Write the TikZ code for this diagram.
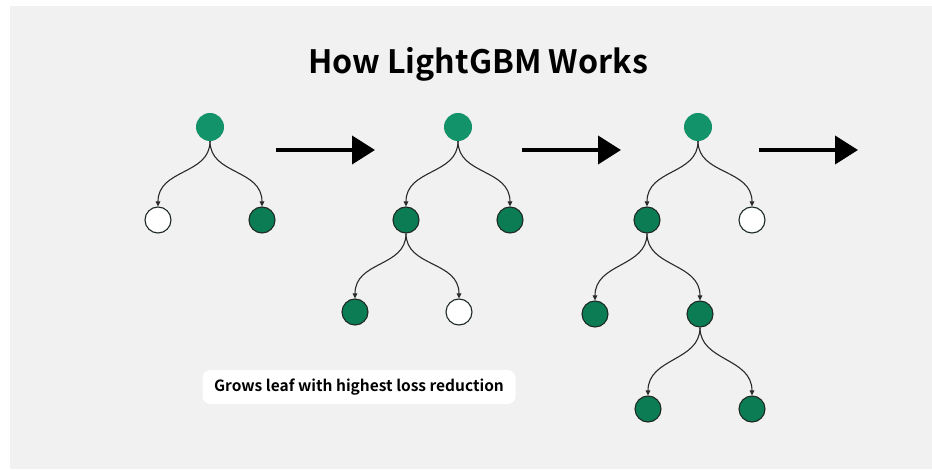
\documentclass[tikz,border=0pt]{standalone}
\usepackage{fontspec}
\setmainfont{Noto Sans CJK SC}[BoldFont=* Bold]
\usetikzlibrary{arrows.meta}
\definecolor{bgcol}{HTML}{F1F1F1}
\definecolor{rootgreen}{HTML}{13936A}
\definecolor{leafgreen}{HTML}{0C7C55}
\definecolor{edgecol}{HTML}{1E2A24}
\definecolor{linkcol}{HTML}{2A2A2A}
\begin{document}
\begin{tikzpicture}[x=1pt,y=-1pt,
  rootnode/.style={circle,minimum size=28pt,inner sep=0pt,fill=rootgreen},
  greenleaf/.style={circle,minimum size=26pt,inner sep=0pt,draw=edgecol,line width=1.1pt,fill=leafgreen},
  whiteleaf/.style={greenleaf,fill=white},
  split/.style={draw=linkcol,line width=1.1pt,-{Triangle[length=5pt,width=4.5pt]},
    to path={.. controls +(0,34) and +(0,-38) .. (\tikztotarget)}},
  bigarrow/.style={line width=4pt,-{Triangle[length=23pt,width=28pt]}}]
% canvas
\fill[white] (0,0) rectangle (932,470);
\fill[bgcol] (10,6) rectangle (932,469);
\useasboundingbox (0,0) rectangle (932,470);
% title
\node[font=\bfseries\fontsize{32.2}{38}\selectfont,anchor=base] (title) at (478,74) {How LightGBM Works};
% tree 1
\node[rootnode] (a0) at (210,127) {};
\node[whiteleaf] (a1) at (158,220) {};
\node[greenleaf] (a2) at (262,220) {};
\draw[split] (a0.south) to (a1.north);
\draw[split] (a0.south) to (a2.north);
% tree 2
\node[rootnode] (b0) at (458,127) {};
\node[greenleaf] (b1) at (406,220) {};
\node[greenleaf] (b2) at (510,220) {};
\node[greenleaf] (b3) at (355,312) {};
\node[whiteleaf] (b4) at (459,312) {};
\draw[split] (b0.south) to (b1.north);
\draw[split] (b0.south) to (b2.north);
\draw[split] (b1.south) to (b3.north);
\draw[split] (b1.south) to (b4.north);
% tree 3
\node[rootnode] (c0) at (698,127) {};
\node[greenleaf] (c1) at (647,220) {};
\node[whiteleaf] (c2) at (752,220) {};
\node[greenleaf] (c3) at (595,314) {};
\node[greenleaf] (c4) at (700,314) {};
\node[greenleaf] (c5) at (648,409) {};
\node[greenleaf] (c6) at (752,409) {};
\draw[split] (c0.south) to (c1.north);
\draw[split] (c0.south) to (c2.north);
\draw[split] (c1.south) to (c3.north);
\draw[split] (c1.south) to (c4.north);
\draw[split] (c4.south) to (c5.north);
\draw[split] (c4.south) to (c6.north);
% step arrows
\coordinate (s1) at (276,150); \coordinate (e1) at (375,150);
\coordinate (s2) at (522,150); \coordinate (e2) at (621,150);
\coordinate (s3) at (759,150); \coordinate (e3) at (858,150);
\draw[bigarrow] (s1) -- (e1);
\draw[bigarrow] (s2) -- (e2);
\draw[bigarrow] (s3) -- (e3);
% caption
\node[fill=white,rounded corners=8pt,minimum width=313pt,minimum height=34pt,inner sep=0pt,
  font=\bfseries\fontsize{15.5}{20}\selectfont] (cap) at (359,387) {Grows leaf with highest loss reduction};
\end{tikzpicture}
\end{document}
